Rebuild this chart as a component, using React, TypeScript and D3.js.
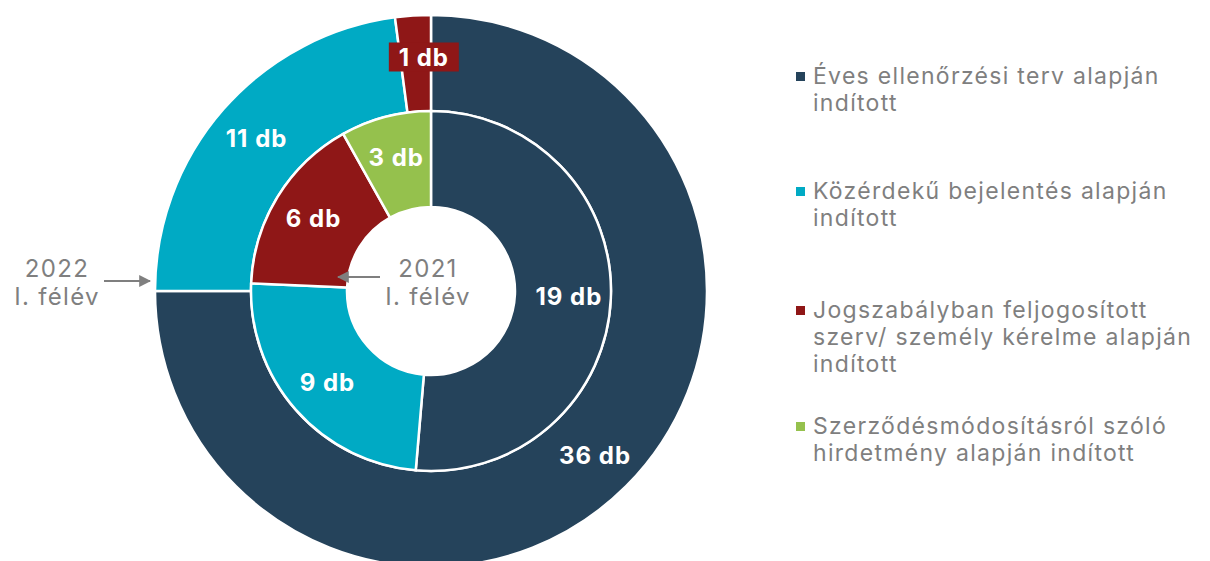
import React from "react";
import * as d3 from "d3";

const categories = [
  "Éves ellenőrzési terv alapján indított",
  "Közérdekű bejelentés alapján indított",
  "Jogszabályban feljogosított szerv/ személy kérelme alapján indított",
  "Szerződésmódosításról szóló hirdetmény alapján indított",
];
const legendLines = [
  ["Éves ellenőrzési terv alapján", "indított"],
  ["Közérdekű bejelentés alapján", "indított"],
  ["Jogszabályban feljogosított", "szerv/ személy kérelme alapján", "indított"],
  ["Szerződésmódosításról szóló", "hirdetmény alapján indított"],
];
const colors = ["#25435B", "#00AAC4", "#8F1717", "#95C14D"];
const values2022 = [36, 11, 1, 0];
const values2021 = [19, 9, 6, 3];
const ringLabels = ["2022", "I. félév"];
const innerLabels = ["2021", "I. félév"];

const W = 1210;
const H = 561;
const cx = 431;
const cy = 291;
const rOuter = 276;
const rMid = 180;
const rHole = 84;

export default function App() {
  const pie = d3.pie<number>().sort(null).value((d) => d);
  const outerArcs = pie(values2022);
  const innerArcs = pie(values2021);
  const outerArc = d3.arc<d3.PieArcDatum<number>>().innerRadius(rMid).outerRadius(rOuter);
  const innerArc = d3.arc<d3.PieArcDatum<number>>().innerRadius(rHole).outerRadius(rMid);
  const outerLabelArc = d3.arc<d3.PieArcDatum<number>>().innerRadius(232).outerRadius(232);
  const innerLabelArc = d3.arc<d3.PieArcDatum<number>>().innerRadius(138).outerRadius(138);
  const font = "Inter, 'Noto Sans', sans-serif";
  const gray = "#7F7F7F";
  const legendTops = [76, 191, 310, 426];
  const lineH = 27;
  const ls = 1.3;

  return (
    <svg width={W} height={H} style={{ position: "absolute", left: 0, top: 0 }} fontFamily={font}>
      <defs>
        <marker id="ah" viewBox="0 0 10 10" refX="9" refY="5" markerWidth="6" markerHeight="6" orient="auto">
          <path d="M0,0 L10,5 L0,10 z" fill={gray} />
        </marker>
      </defs>
      <g transform={`translate(${cx},${cy})`}>
        {outerArcs.map((a, i) =>
          a.value > 0 ? (
            <path key={"o" + i} d={outerArc(a) || ""} fill={colors[i]} stroke="#fff" strokeWidth={2.5} />
          ) : null
        )}
        {innerArcs.map((a, i) => (
          <path key={"i" + i} d={innerArc(a) || ""} fill={colors[i]} stroke="#fff" strokeWidth={2.5} />
        ))}
        {outerArcs.map((a, i) => {
          if (a.value <= 0) return null;
          const [x, y] = outerLabelArc.centroid(a);
          const small = a.endAngle - a.startAngle < 0.3;
          const lx = small ? x + 8 : x;
          const ly = small ? y - 2 : y;
          return (
            <g key={"ol" + i}>
              {small && <rect x={lx - 35} y={ly - 15} width={70} height={29} fill={colors[i]} />}
              <text x={lx} y={ly} textAnchor="middle" dominantBaseline="central" fill="#fff" fontWeight={700} fontSize={24} letterSpacing={1}>
                {`${a.value} db`}
              </text>
            </g>
          );
        })}
        {innerArcs.map((a, i) => {
          const [x, y] = innerLabelArc.centroid(a);
          return (
            <text key={"il" + i} x={x} y={y} textAnchor="middle" dominantBaseline="central" fill="#fff" fontWeight={700} fontSize={24} letterSpacing={1}>
              {`${a.value} db`}
            </text>
          );
        })}
      </g>
      {ringLabels.map((t, i) => (
        <text key={"r" + i} x={57} y={268 + i * 28} textAnchor="middle" dominantBaseline="central" fill={gray} fontSize={24} letterSpacing={ls}>
          {t}
        </text>
      ))}
      <line x1={104} y1={281} x2={150} y2={281} stroke={gray} strokeWidth={2} markerEnd="url(#ah)" />
      {innerLabels.map((t, i) => (
        <text key={"c" + i} x={428} y={268 + i * 28} textAnchor="middle" dominantBaseline="central" fill={gray} fontSize={24} letterSpacing={ls}>
          {t}
        </text>
      ))}
      <line x1={380} y1={277} x2={338} y2={277} stroke={gray} strokeWidth={2} markerEnd="url(#ah)" />
      {categories.map((c, i) => (
        <g key={"lg" + i}>
          <rect x={796} y={legendTops[i] - 4} width={9} height={9} fill={colors[i]} />
          {legendLines[i].map((l, j) => (
            <text key={j} x={813} y={legendTops[i] + j * lineH} dominantBaseline="central" fill={gray} fontSize={23} letterSpacing={ls}>
              {l}
            </text>
          ))}
        </g>
      ))}
    </svg>
  );
}
